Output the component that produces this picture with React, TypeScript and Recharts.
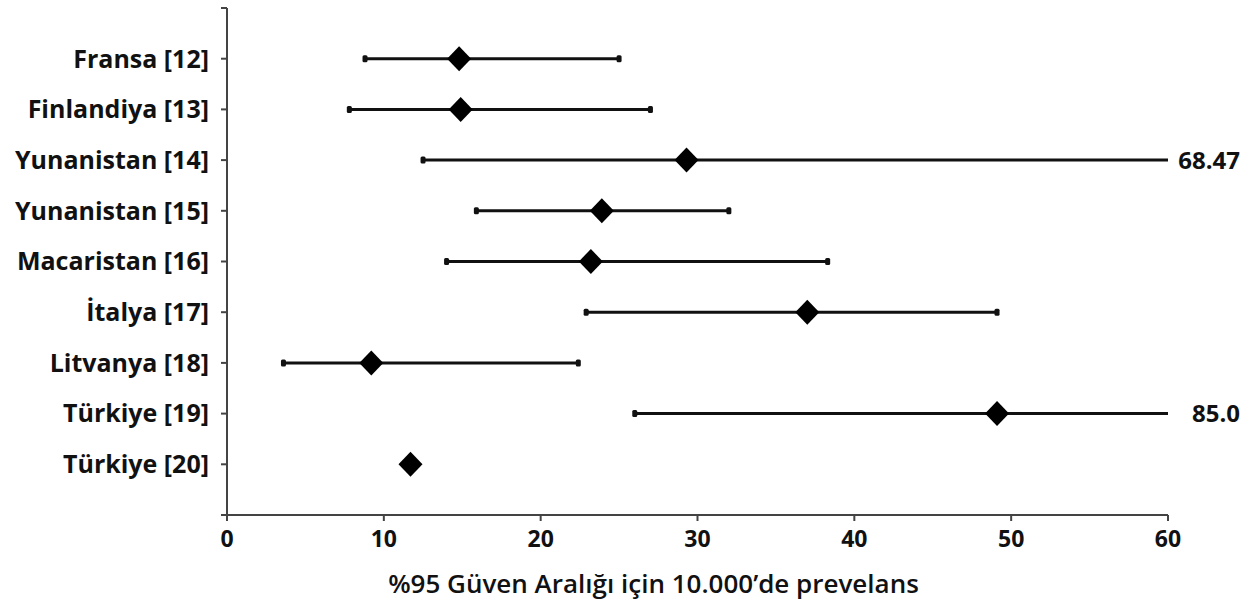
import React from 'react';
import { ScatterChart, Scatter, XAxis, YAxis } from 'recharts';

const categories = ['Fransa [12]', 'Finlandiya [13]', 'Yunanistan [14]', 'Yunanistan [15]', 'Macaristan [16]', 'İtalya [17]', 'Litvanya [18]', 'Türkiye [19]', 'Türkiye [20]'];
const estimates = [14.8, 14.9, 29.3, 23.9, 23.2, 37.0, 9.2, 49.1, 11.7];
const lower: (number | null)[] = [8.8, 7.8, 12.5, 15.9, 14.0, 22.9, 3.6, 26.0, null];
const upper: (number | null)[] = [25.0, 27.0, 68.47, 32.0, 38.3, 49.1, 22.4, 85.0, null];
const upperLabels = ['', '', '68.47', '', '', '', '', '85.0', ''];
const xTicks = [0, 10, 20, 30, 40, 50, 60];
const xMax = 60;
const yTicks = [0, 1, 2, 3, 4, 5, 6, 7, 8, 9, 10];
const xTitle = '%95 Güven Aralığı için 10.000’de prevelans';

const pointData = estimates.map((v, i) => ({ x: v, y: i + 1 }));

const intervalData = categories.map((c, i) => {
  const lo = lower[i];
  const hi = upper[i];
  if (lo == null || hi == null) return null;
  const truncated = hi > xMax;
  return [
    { x: lo, y: i + 1, cap: true, label: '' },
    { x: truncated ? xMax : hi, y: i + 1, cap: !truncated, label: truncated ? upperLabels[i] : '' },
  ];
});

const FONT = '"Open Sans", sans-serif';

const Diamond = (props: any) => {
  const { cx, cy } = props;
  if (cx == null || cy == null) return null;
  const w = 12;
  const h = 12.5;
  return <polygon points={`${cx},${cy - h} ${cx + w},${cy} ${cx},${cy + h} ${cx - w},${cy}`} fill="#000" />;
};

const Cap = (props: any) => {
  const { cx, cy, payload } = props;
  if (cx == null || cy == null) return null;
  return (
    <g>
      {payload.cap && <rect x={cx - 2.5} y={cy - 3.5} width={5} height={7} rx={1.5} fill="#111" />}
      {payload.label && (
        <text x={cx + 72} y={cy} dy={8.5} textAnchor="end" fontFamily={FONT} fontWeight={700} fontSize={24} fill="#111">
          {payload.label}
        </text>
      )}
    </g>
  );
};

const XTitle = (props: any) => {
  const vb = props.viewBox || {};
  return (
    <text x={vb.x + vb.width / 2 - 44} y={vb.y + 78} textAnchor="middle" fontFamily={FONT} fontWeight={600} fontSize={26} fill="#111">
      {xTitle}
    </text>
  );
};

export default function App() {
  return (
    <div style={{ position: 'absolute', left: 0, top: 0, background: '#fff' }}>
      <ScatterChart width={1251} height={602} margin={{ top: 8, right: 83, bottom: 37, left: 0 }}>
        <XAxis
          type="number"
          dataKey="x"
          domain={[0, xMax]}
          ticks={xTicks}
          height={50}
          stroke="#444"
          strokeWidth={2}
          tickSize={6}
          tickMargin={10}
          tick={{ fill: '#111', fontFamily: FONT, fontWeight: 700, fontSize: 23 }}
          label={{ content: XTitle }}
        />
        <YAxis
          type="number"
          dataKey="y"
          domain={[0, 10]}
          ticks={yTicks}
          reversed
          width={227}
          stroke="#444"
          strokeWidth={2}
          tickSize={6}
          tickMargin={12}
          interval={0}
          tickFormatter={(v: number) => categories[v - 1] ?? ''}
          tick={{ fill: '#111', fontFamily: FONT, fontWeight: 700, fontSize: 25 }}
        />
        {intervalData.map((d, i) =>
          d ? (
            <Scatter
              key={i}
              data={d}
              line={{ stroke: '#111', strokeWidth: 3 }}
              shape={Cap}
              isAnimationActive={false}
            />
          ) : null
        )}
        <Scatter data={pointData} shape={Diamond} isAnimationActive={false} />
      </ScatterChart>
    </div>
  );
}
